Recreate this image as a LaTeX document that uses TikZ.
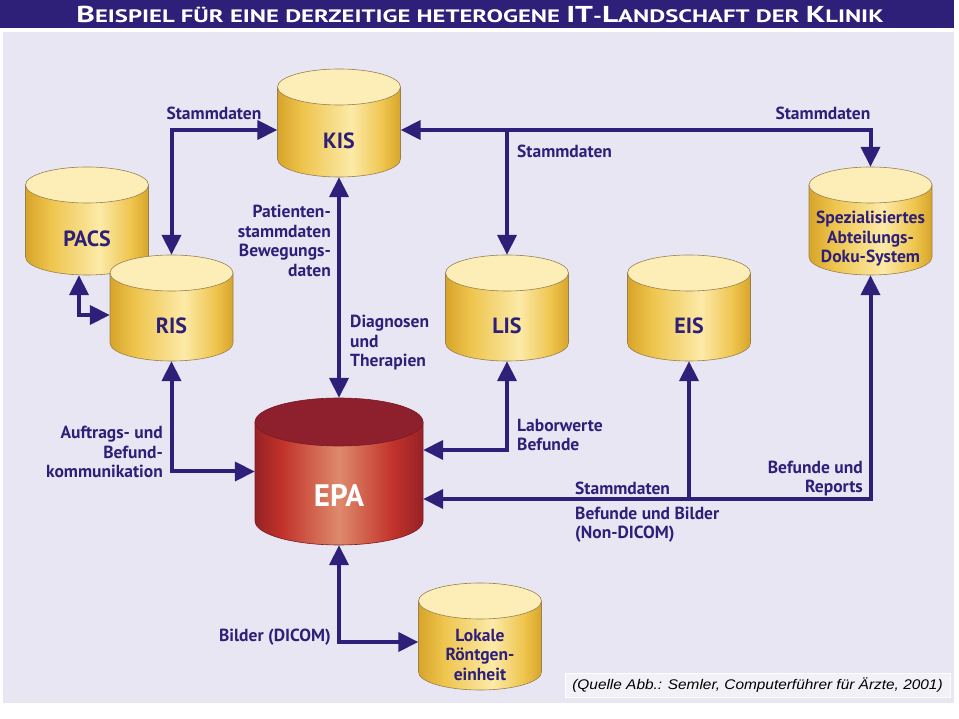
\documentclass[tikz,border=0pt]{standalone}
\usepackage{fontspec}
\setmainfont{PT Sans}
\newfontfamily\quellefont{Liberation Sans}
\usetikzlibrary{arrows.meta,calc}

\definecolor{klinikblue}{RGB}{46,31,120}
\definecolor{panelbg}{RGB}{233,230,243}
\definecolor{quellebg}{RGB}{243,241,248}
\definecolor{cyledge}{RGB}{150,128,80}
\definecolor{yelltop}{RGB}{253,238,184}
\definecolor{yelldark}{RGB}{216,164,42}
\definecolor{yellmid}{RGB}{238,196,76}
\definecolor{yelllight}{RGB}{252,234,168}
\definecolor{redtop}{RGB}{142,31,44}
\definecolor{reddark}{RGB}{150,34,38}
\definecolor{redmid}{RGB}{194,50,42}
\definecolor{redlight}{RGB}{222,138,108}
\definecolor{rededge}{RGB}{120,26,36}

\pgfdeclarehorizontalshading{yellowside}{100bp}{color(0bp)=(yelldark); color(25bp)=(yelldark);
  color(35bp)=(yellmid); color(55bp)=(yelllight); color(68bp)=(yellmid); color(75bp)=(yelldark);
  color(100bp)=(yelldark)}
\pgfdeclarehorizontalshading{redside}{100bp}{color(0bp)=(reddark); color(25bp)=(reddark);
  color(33bp)=(redmid); color(50bp)=(redlight); color(66bp)=(redmid); color(75bp)=(reddark);
  color(100bp)=(reddark)}

\newcommand{\cylrx}{61.5}
\newcommand{\cylry}{18}
% name, x, y of top, y of bottom, side shading, top colour, label style, label
\newcommand{\dbcyl}[8]{%
  \shade[shading=#5, draw=cyledge, line width=0.6pt]
    (#2-\cylrx,#3) -- (#2-\cylrx,#4)
    arc[start angle=180, end angle=360, x radius=\cylrx, y radius=\cylry]
    -- (#2+\cylrx,#3) -- cycle;
  \filldraw[fill=#6, draw=cyledge, line width=0.6pt] (#2,#3) ellipse[x radius=\cylrx, y radius=\cylry];
  \node[inner sep=0pt, minimum width=2*\cylrx, minimum height={#3-#4+2*\cylry}] (#1) at (#2,{(#3+#4)/2}) {};
  \node[#7] (#1-txt) at (#2,{(#3+#4)/2-\cylry}) {#8};
}
\newcommand{\titlecap}[1]{{\fontsize{23}{23}\selectfont #1}}

\begin{document}
\begin{tikzpicture}[x=1pt, y=1pt,
    link/.style={draw=klinikblue, line width=4pt},
    >={Triangle[length=20pt, width=19pt]},
    lbl/.style={text=klinikblue, inner sep=0pt, font=\bfseries\fontsize{17.5}{19.5}\selectfont},
    dbname/.style={text=klinikblue, inner sep=0pt, font=\bfseries\fontsize{22}{22}\selectfont},
    dbsmall/.style={text=klinikblue, inner sep=0pt, align=center, font=\bfseries\fontsize{17.5}{19.5}\selectfont}]
  \useasboundingbox (0,0) rectangle (959,718);
  \fill[white] (0,0) rectangle (959,718);
  \fill[panelbg] (3,15) rectangle (954,686);
  \fill[klinikblue] (0,690) rectangle (954,718);
  \node[text=white, inner sep=0pt, font=\bfseries\fontsize{18}{18}\selectfont] (title) at (480,704)
    {\scalebox{1.37}[1]{\titlecap{B}EISPIEL FÜR EINE DERZEITIGE HETEROGENE \titlecap{IT}-\titlecap{L}ANDSCHAFT DER \titlecap{K}LINIK}};

  % Datenbanken
  \dbcyl{kis}{339}{631}{559}{yellowside}{yelltop}{dbname}{KIS}
  \dbcyl{pacs}{87}{533}{461}{yellowside}{yelltop}{dbname}{PACS}
  \dbcyl{ris}{171.5}{445}{375}{yellowside}{yelltop}{dbname}{RIS}
  \dbcyl{lis}{507}{445}{375}{yellowside}{yelltop}{dbname}{LIS}
  \dbcyl{eis}{689}{445}{375}{yellowside}{yelltop}{dbname}{EIS}
  \dbcyl{spez}{870.5}{533}{461}{yellowside}{yelltop}{dbsmall}{Spezialisiertes\\Abteilungs-\\Doku-System}
  \dbcyl{lok}{480}{117}{46}{yellowside}{yelltop}{dbsmall}{Lokale\\Röntgen-\\einheit}
  \begin{scope}
    \renewcommand{\cylrx}{84}
    \renewcommand{\cylry}{24}
    \colorlet{cyledge}{rededge}
    \dbcyl{epa}{339}{296}{197}{redside}{redtop}{dbname, text=white, font=\bfseries\fontsize{31}{31}\selectfont}{EPA}
  \end{scope}

  % Verbindungen
  \coordinate (kisl) at ($(kis.west)+(0,-7)$);
  \coordinate (kisr) at ($(kis.east)+(0,-7)$);
  \coordinate (epar1) at ($(epa.east)+(0,21.5)$);
  \coordinate (epar2) at ($(epa.east)+(0,-27.5)$);
  \draw[link, <->] (ris.north) |- (kisl);
  \draw[link, <->] (kisr) -| (spez.north);
  \draw[link, ->] (kisr -| lis.north) -- (lis.north);
  \draw[link, <->] (kis.south) -- (epa.north);
  \draw[link, <->] ($(pacs.south)+(-8,0)$) |- ($(ris.west)+(0,-7)$);
  \draw[link, <->] (ris.south) |- (epa.west);
  \draw[link, <->] (epar1) -| (lis.south);
  \draw[link, <->] (epar2) -| (spez.south);
  \draw[link, ->] (epar2 -| eis.south) -- (eis.south);
  \draw[link, <->] (epa.south) |- ($(lok.west)+(0,-5.5)$);

  % Beschriftungen
  \node[lbl] (st1) at (214,605) {Stammdaten};
  \node[lbl] (st2) at (823,605) {Stammdaten};
  \node[lbl, anchor=west] (st3) at (517,567) {Stammdaten};
  \node[lbl, anchor=east, align=right] (pat) at (331,477) {Patienten-\\stammdaten\\Bewegungs-\\daten};
  \node[lbl, anchor=west, align=left] (diag) at (350,375) {Diagnosen\\und\\Therapien};
  \node[lbl, anchor=east, align=right] (auf) at (163,266) {Auftrags- und\\Befund-\\kommunikation};
  \node[lbl, anchor=west, align=left] (lab) at (517,283) {Laborwerte\\Befunde};
  \node[lbl, anchor=west] (st4) at (575,230) {Stammdaten};
  \node[lbl, anchor=west, align=left] (bild) at (575,193.5) {Befunde und Bilder\\(Non-DICOM)};
  \node[lbl, anchor=east, align=right] (rep) at (863,239.5) {Befunde und\\Reports};
  \node[lbl, anchor=east] (dicom) at (331,81) {Bilder (DICOM)};

  \filldraw[fill=quellebg, draw=white, line width=1pt] (565,21) rectangle (950,44);
  \node[text=black, inner sep=0pt, font=\quellefont\itshape\fontsize{14}{14}\selectfont] (quelle) at (757.5,32.5)
    {\scalebox{1.1}[1]{(Quelle Abb.: Semler, Computerführer für Ärzte, 2001)}};
\end{tikzpicture}
\end{document}
